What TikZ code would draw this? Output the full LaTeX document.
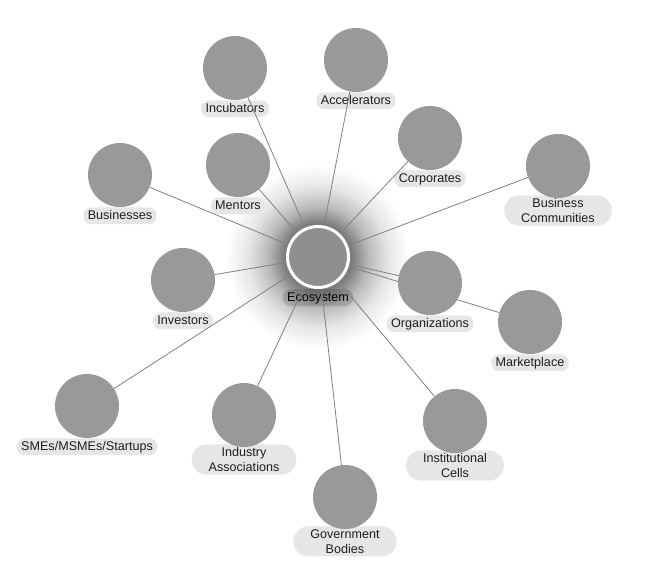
\documentclass[tikz,border=0pt]{standalone}
\usepackage{fontspec}
\setmainfont{Liberation Sans}
\usetikzlibrary{positioning}
\definecolor{EcoBubble}{RGB}{153,153,153}
\definecolor{EcoCore}{RGB}{143,143,143}
\definecolor{EcoTag}{RGB}{230,230,230}
\definecolor{EcoLink}{RGB}{128,128,128}
\definecolor{EcoText}{RGB}{30,30,30}
\definecolor{GlowA}{RGB}{125,125,125}
\definecolor{GlowB}{RGB}{185,185,185}
\definecolor{GlowC}{RGB}{230,230,230}
\pgfdeclareradialshading{ecoglow}{\pgfpoint{0bp}{0bp}}{color(0bp)=(GlowA); color(34bp)=(GlowA); color(50bp)=(GlowB); color(70bp)=(GlowC); color(92bp)=(white); color(100bp)=(white)}
\pgfdeclarelayer{back}
\pgfdeclarelayer{links}
\pgfsetlayers{back,links,main}

\begin{document}
\begin{tikzpicture}[x=1pt, y=-1pt,
          bubble/.style={circle, fill=EcoBubble, minimum size=64pt, inner sep=0pt},
          tag/.style={fill=EcoTag, rounded corners=8pt, inner xsep=4.5pt, inner ysep=2.5pt,
                      text height=9.3pt, text depth=2.5pt, text=EcoText,
                      font=\fontsize{12.6}{15}\selectfont, below=0pt of #1},
          tagtwo/.style={fill=EcoTag, rounded corners=15pt, inner xsep=17pt, inner ysep=3pt,
                         align=center, text=EcoText,
                         font=\fontsize{12.6}{15}\selectfont, below=-3pt of #1},
          link/.style={draw=EcoLink, line width=0.8pt}
        ]
        \useasboundingbox (0,0) rectangle (648,578);

        % Hub
        \node[circle, fill=EcoCore, draw=white, line width=3pt, minimum size=61pt,
              inner sep=0pt] (eco) at (318,257) {};

        % Outer ring
        \node[bubble] (incub)  at (235,68)  {};
        \node[bubble] (accel)  at (356,60)  {};
        \node[bubble] (corp)   at (430,138) {};
        \node[bubble] (buscom) at (558,166) {};
        \node[bubble] (busi)   at (120,175) {};
        \node[bubble] (mentor) at (238,165) {};
        \node[bubble] (invest) at (183,280) {};
        \node[bubble] (org)    at (430,283) {};
        \node[bubble] (market) at (530,322) {};
        \node[bubble] (smes)   at (87,406)  {};
        \node[bubble] (indus)  at (244,415) {};
        \node[bubble] (inst)   at (455,421) {};
        \node[bubble] (govt)   at (345,497) {};

        % Glow and labels
        \begin{pgfonlayer}{back}
          \node[inner sep=0pt] (glow) at (eco.center) {\pgfuseshading{ecoglow}};
          \node[tag=eco, fill=black, fill opacity=0.15, text opacity=1, text=black]
                (ecoL) {Ecosystem};
          \node[tag=incub]  (incubL)  {Incubators};
          \node[tag=accel]  (accelL)  {Accelerators};
          \node[tag=corp]   (corpL)   {Corporates};
          \node[tagtwo=buscom] (buscomL) {Business\\Communities};
          \node[tag=busi]   (busiL)   {Businesses};
          \node[tag=mentor] (mentorL) {Mentors};
          \node[tag=invest] (investL) {Investors};
          \node[tag=org]    (orgL)    {Organizations};
          \node[tag=market] (marketL) {Marketplace};
          \node[tag=smes]   (smesL)   {SMEs/MSMEs/Startups};
          \node[tagtwo=indus] (indusL) {Industry\\Associations};
          \node[tagtwo=inst]  (instL)  {Institutional\\Cells};
          \node[tagtwo=govt]  (govtL)  {Government\\Bodies};
        \end{pgfonlayer}

        % Spokes from the hub
        \begin{pgfonlayer}{links}
          \draw[link] (eco) -- (incub);
          \draw[link] (eco) -- (accel);
          \draw[link] (eco) -- (corp);
          \draw[link] (eco) -- (buscom);
          \draw[link] (eco) -- (busi);
          \draw[link] (eco) -- (mentor);
          \draw[link] (eco) -- (invest);
          \draw[link] (eco) -- (org);
          \draw[link] (eco) -- (market);
          \draw[link] (eco) -- (smes);
          \draw[link] (eco) -- (indus);
          \draw[link] (eco) -- (inst);
          \draw[link] (eco) -- (govt);
        \end{pgfonlayer}
      \end{tikzpicture}
\end{document}
